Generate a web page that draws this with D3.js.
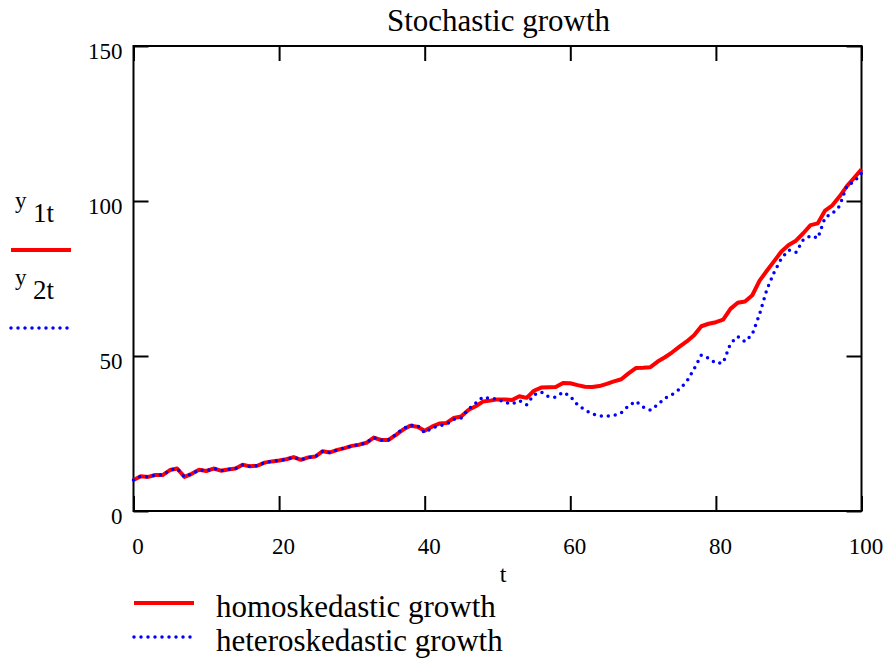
<!DOCTYPE html>
<html>
<head>
<meta charset="utf-8">
<script src="https://cdn.jsdelivr.net/npm/d3@7"></script>
<style>
  body { margin: 0; background: #fff; }
  text { font-family: "Liberation Serif", "Times New Roman", serif; fill: #000; }
  .axis path { display: none; }
  .axis line { stroke: #000; stroke-width: 2; }
</style>
</head>
<body>
<div id="chart"></div>
<script>
var width = 888,
    height = 664;

// time index
var t = d3.range(0, 101);

// homoskedastic growth
var y1 = [10.0,11.2,11.0,11.6,11.6,13.2,13.7,11.0,12.0,13.3,
          12.9,13.7,13.0,13.4,13.7,14.9,14.4,14.6,15.6,16.0,
          16.3,16.7,17.4,16.5,17.3,17.6,19.3,18.9,19.7,20.3,
          21.0,21.4,22.0,23.7,22.9,22.9,24.5,26.2,27.5,27.2,
          25.9,27.2,28.2,28.4,30.0,30.5,32.6,33.8,35.3,35.6,
          36.0,36.0,35.8,37.0,36.5,38.8,39.8,39.9,40.0,41.3,
          41.2,40.6,40.1,40.0,40.3,41.0,41.8,42.5,44.4,46.1,
          46.2,46.4,48.2,49.6,51.2,53.0,54.7,56.7,59.6,60.4,
          60.9,61.7,65.2,67.2,67.6,69.6,74.3,77.5,80.6,83.7,
          85.8,87.2,89.6,92.2,92.8,96.9,98.6,101.5,104.8,107.5,
          110.2];

// heteroskedastic growth
var y2 = [10.0,11.2,11.0,11.6,11.6,13.2,13.7,11.0,12.0,13.3,
          12.9,13.7,13.0,13.4,13.7,14.9,14.4,14.6,15.6,16.0,
          16.3,16.7,17.4,16.5,17.3,17.6,19.3,18.9,19.7,20.3,
          21.0,21.4,22.0,23.7,22.9,22.9,24.6,26.5,27.7,27.6,
          25.2,26.8,27.5,28.0,29.6,30.0,32.8,34.8,36.8,36.3,
          36.1,35.0,34.5,35.6,34.3,37.5,38.4,36.9,36.7,38.3,
          37.0,34.2,32.6,31.3,30.7,30.6,30.8,31.7,33.9,35.4,
          33.5,32.5,34.3,36.4,37.6,39.3,41.8,45.8,50.3,49.3,
          47.6,47.8,54.0,56.3,54.6,57.0,63.5,71.4,77.0,81.5,
          84.2,83.4,87.5,88.8,88.0,94.7,96.0,98.4,105.0,106.2,
          109.0];

var xTicks = [0, 20, 40, 60, 80, 100];
var yTicks = [0, 50, 100, 150];

var x = d3.scaleLinear().domain([0, 100]).range([133.5, 861.5]);
var y = d3.scaleLinear().domain([0, 150]).range([511, 46]);

var svg = d3.select("#chart").append("svg")
    .attr("width", width)
    .attr("height", height);

// title
svg.append("text")
    .attr("x", 498.5)
    .attr("y", 31)
    .attr("text-anchor", "middle")
    .style("font-size", "31px")
    .text("Stochastic growth");

function tickFont(sel) {
    sel.style("font-family", "'Liberation Serif', serif")
        .style("font-size", "23px")
        .attr("fill", "#000");
}

// inward ticks on all four sides
svg.append("g")
    .attr("class", "axis")
    .attr("transform", "translate(0," + y(0) + ")")
    .call(d3.axisBottom(x).tickValues(xTicks).tickSize(-15).tickPadding(27))
    .selectAll("text")
    .attr("dx", "4")
    .call(tickFont);

svg.append("g")
    .attr("class", "axis")
    .attr("transform", "translate(0," + y(150) + ")")
    .call(d3.axisTop(x).tickValues(xTicks).tickSize(-15).tickFormat(""));

svg.append("g")
    .attr("class", "axis")
    .attr("transform", "translate(" + x(0) + ",0)")
    .call(d3.axisLeft(y).tickValues(yTicks).tickSize(-15).tickPadding(11))
    .selectAll("text")
    .attr("dy", "0.55em")
    .call(tickFont);

svg.append("g")
    .attr("class", "axis")
    .attr("transform", "translate(" + x(100) + ",0)")
    .call(d3.axisRight(y).tickValues(yTicks).tickSize(-15).tickFormat(""));

// frame
svg.append("rect")
    .attr("x", x(0))
    .attr("y", y(150))
    .attr("width", x(100) - x(0))
    .attr("height", y(0) - y(150))
    .attr("fill", "none")
    .attr("stroke", "#000")
    .attr("stroke-width", 2);

svg.append("text")
    .attr("x", 503)
    .attr("y", 582)
    .attr("text-anchor", "middle")
    .style("font-size", "24px")
    .text("t");

var line = d3.line()
    .x(function(d, i) { return x(t[i]); })
    .y(function(d) { return y(d); });

svg.append("path")
    .datum(y1)
    .attr("d", line)
    .attr("fill", "none")
    .attr("stroke", "#ff0000")
    .attr("stroke-width", 4)
    .attr("stroke-linejoin", "round");

svg.append("path")
    .datum(y2)
    .attr("d", line)
    .attr("fill", "none")
    .attr("stroke", "#0000ff")
    .attr("stroke-width", 3.5)
    .attr("stroke-linecap", "round")
    .attr("stroke-dasharray", "0 7");

// left legend (y label)
function yLabel(yy, sub) {
    svg.append("text")
        .attr("x", 15)
        .attr("y", yy)
        .style("font-size", "23px")
        .text("y");
    svg.append("text")
        .attr("x", 33)
        .attr("y", yy + 14)
        .style("font-size", "27px")
        .text(sub);
}
yLabel(208, "1t");
yLabel(285, "2t");

svg.append("line")
    .attr("x1", 11).attr("x2", 71)
    .attr("y1", 250).attr("y2", 250)
    .attr("stroke", "#ff0000")
    .attr("stroke-width", 4);

svg.append("line")
    .attr("x1", 11).attr("x2", 68)
    .attr("y1", 328).attr("y2", 328)
    .attr("stroke", "#0000ff")
    .attr("stroke-width", 3.5)
    .attr("stroke-linecap", "round")
    .attr("stroke-dasharray", "0 7");

// bottom legend
function legend(yy, text, color, dash) {
    var l = svg.append("line")
        .attr("x1", 134).attr("x2", 194)
        .attr("y1", yy).attr("y2", yy)
        .attr("stroke", color)
        .attr("stroke-width", dash ? 3.5 : 4);
    if (dash) {
        l.attr("stroke-linecap", "round").attr("stroke-dasharray", "0 7");
    }
    svg.append("text")
        .attr("x", 216)
        .attr("y", yy + 14)
        .style("font-size", "31px")
        .text(text);
}
legend(603, "homoskedastic growth", "#ff0000", false);
legend(637, "heteroskedastic growth", "#0000ff", true);
</script>
</body>
</html>
